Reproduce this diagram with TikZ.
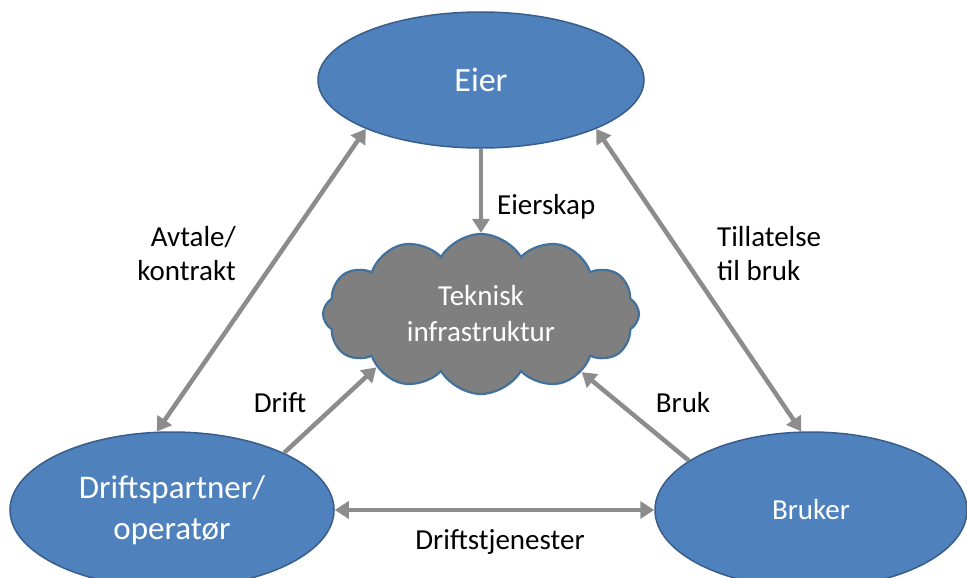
\documentclass[tikz,border=0pt]{standalone}
\usepackage{fontspec}
\setmainfont{Carlito}
\usetikzlibrary{shapes.geometric}
\usetikzlibrary{shapes.symbols}
\usetikzlibrary{arrows.meta}
\usetikzlibrary{positioning}

\definecolor{rollefyll}{HTML}{4F81BD}
\definecolor{rollekant}{HTML}{385D8A}
\definecolor{skyfyll}{HTML}{7F7F7F}
\definecolor{skykant}{HTML}{41719C}
\definecolor{pilgraa}{HTML}{8C8C8C}

\begin{document}
\begin{tikzpicture}[x=1pt, y=-1pt,
        rolle/.style={ellipse, fill=rollefyll, draw=rollekant, line width=1.5pt,
            text=white, align=center, inner sep=0pt},
        sky/.style={cloud, cloud puffs=12, cloud puff arc=120, aspect=2.1,
            fill=skyfyll, draw=skykant, line width=2.2pt, text=white, align=center,
            inner sep=0pt, minimum width=316pt, minimum height=160pt},
        pil/.style={draw=pilgraa, line width=4.5pt, -{Triangle[width=17pt,length=14pt]}},
        dobbelpil/.style={draw=pilgraa, line width=4.5pt,
            {Triangle[width=17pt,length=14pt]}-{Triangle[width=17pt,length=14pt]}},
        etikett/.style={font=\fontsize{29}{34}\selectfont, inner sep=0pt}]
            \useasboundingbox (0,0) rectangle (967,578);
            \clip (0,0) rectangle (967,578);

            \node[sky, font=\fontsize{29}{36}\selectfont] (infra) at (481,314) {Teknisk\\infrastruktur};
            \node[rolle, minimum width=326pt, minimum height=136pt,
                font=\fontsize{34}{40}\selectfont] (eier) at (481,80) {Eier};
            \node[rolle, minimum width=324pt, minimum height=156pt,
                font=\fontsize{33}{41}\selectfont] (drift) at (172,510) {Driftspartner/\\operatør};
            \node[rolle, minimum width=312pt, minimum height=156pt,
                font=\fontsize{29}{35}\selectfont] (bruker) at (811,510) {Bruker};

            \draw[dobbelpil] (eier.203) -- (drift.101);
            \draw[dobbelpil] (eier.337) -- (bruker.97);
            \draw[dobbelpil] (drift.east) -- (bruker.west);
            \draw[pil] (eier.south) -- (infra.north);
            \draw[pil] (drift.27) -- (infra.207);
            \draw[pil] (bruker.158) -- (infra.330);

            \node[etikett, align=right, anchor=east] (avtale) at (236,254) {Avtale/\\kontrakt};
            \node[etikett, align=left, anchor=west] (tillatelse) at (717,254) {Tillatelse\\til bruk};
            \node[etikett, anchor=west] (eierskap) at (497,207) {Eierskap};
            \node[etikett] (driftlabel) at (280,403) {Drift};
            \node[etikett] (bruk) at (683,403) {Bruk};
            \node[etikett] (tjenester) at (500,542) {Driftstjenester};
        \end{tikzpicture}
\end{document}
